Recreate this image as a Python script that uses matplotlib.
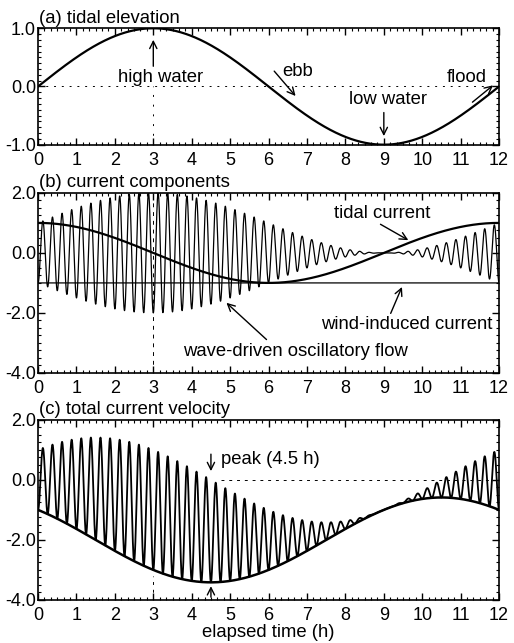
import numpy as np
import matplotlib
matplotlib.use("Agg")
import matplotlib.pyplot as plt
import matplotlib.ticker as mtick

plt.rcParams['font.family'] = ['Liberation Sans', 'DejaVu Sans']
plt.rcParams['font.size'] = 13.3
plt.rcParams['axes.unicode_minus'] = False

# values
hour_ticks = list(range(0, 13))
tide_amp = 1.0          # peak tidal elevation / tidal current
tide_period = 12.0      # h
wind_current = -1.0     # steady wind-induced current
wave_period = 0.25      # h, about 4 oscillations per hour
wave_base_amp = 1.0     # wave amplitude at mean water level
peak_time = 4.5         # h, peak of total current

elev_ticks = [-1.0, 0.0, 1.0]
vel_ticks = [-4.0, -2.0, 0.0, 2.0]

# tidal model curves (sampled densely so the wave flow resolves)
t = np.linspace(0, 12, 8001)
phase = 2 * np.pi * t / tide_period
elevation = tide_amp * np.sin(phase)
tidal_current = tide_amp * np.cos(phase)
wind = np.full_like(t, wind_current)
wave_amp = wave_base_amp + elevation
wave = -wave_amp * np.cos(2 * np.pi * t / wave_period)
total = tidal_current + wind + wave
total_low = tidal_current + wind - wave_amp


def style_axis(ax, ylim, yticks, yminor):
    ax.set_xlim(0, 12)
    ax.set_ylim(*ylim)
    ax.set_xticks(hour_ticks)
    ax.xaxis.set_minor_locator(mtick.MultipleLocator(1 / 6))
    ax.set_yticks(yticks)
    ax.yaxis.set_minor_locator(mtick.MultipleLocator(yminor))
    ax.yaxis.set_major_formatter(mtick.StrMethodFormatter('{x:.1f}'))
    ax.tick_params(which='both', direction='in', top=True, right=True,
                   labelsize=13)
    ax.tick_params(axis='y', pad=1.5)
    ax.tick_params(axis='x', pad=5)
    ax.tick_params(which='major', length=5, width=1)
    ax.tick_params(which='minor', length=2.5, width=0.8)
    for sp in ax.spines.values():
        sp.set_linewidth(1.2)


fig = plt.figure(figsize=(5.14, 6.43), dpi=100)
ax1 = fig.add_axes([0.074, 0.775, 0.897, 0.181])
ax2 = fig.add_axes([0.074, 0.420, 0.897, 0.280])
ax3 = fig.add_axes([0.074, 0.067, 0.897, 0.280])

arrow = dict(arrowstyle='->', color='black', lw=1.0, mutation_scale=13)

# (a) tidal elevation
ax1.plot([0, 12], [0, 0], color='black', lw=0.7, ls=(0, (2, 6)))
ax1.plot([3, 3], [-1, 0], color='black', lw=0.7, ls=(0, (2, 8)))
ax1.plot(t, elevation, color='black', lw=1.6)
style_axis(ax1, (-1, 1), elev_ticks, 0.1)
ax1.text(0.03, 1.03, '(a) tidal elevation', ha='left', va='bottom')
ax1.annotate('', xy=(3, 0.85), xytext=(3, 0.3), arrowprops=arrow)
ax1.text(3.18, 0.15, 'high water', ha='center', va='center')
ax1.annotate('', xy=(6.75, -0.2), xytext=(6.1, 0.3), arrowprops=arrow)
ax1.text(6.75, 0.25, 'ebb', ha='center', va='center')
ax1.annotate('', xy=(11.9, 0.05), xytext=(11.25, -0.3), arrowprops=arrow)
ax1.text(11.15, 0.15, 'flood', ha='center', va='center')
ax1.annotate('', xy=(9, -0.9), xytext=(9, -0.4), arrowprops=arrow)
ax1.text(9.1, -0.22, 'low water', ha='center', va='center')

# (b) current components
ax2.plot([3, 3], [-4, 2], color='black', lw=0.7, ls=(0, (4, 5)))
ax2.plot(t, wave, color='black', lw=0.9)
ax2.plot(t, wind, color='black', lw=0.9)
ax2.plot(t, tidal_current, color='black', lw=1.6)
style_axis(ax2, (-4, 2), vel_ticks, 0.25)
ax2.text(0.03, 2.05, '(b) current components', ha='left', va='bottom')
ax2.annotate('', xy=(9.7, 0.38), xytext=(8.85, 1.0), arrowprops=arrow)
ax2.text(8.95, 1.3, 'tidal current', ha='center', va='center')
ax2.annotate('', xy=(9.5, -1.05), xytext=(9.15, -2.1), arrowprops=arrow)
ax2.text(9.6, -2.38, 'wind-induced current', ha='center', va='center')
ax2.annotate('', xy=(4.85, -1.6), xytext=(6.0, -2.95), arrowprops=arrow)
ax2.text(6.7, -3.27, 'wave-driven oscillatory flow', ha='center', va='center')

# (c) total current velocity
ax3.plot([4.75, 12], [0, 0], color='black', lw=0.7, ls=(0, (3, 5)))
ax3.plot([3, 3], [-4, -3.2], color='black', lw=0.7, ls=(0, (3, 5)))
ax3.plot(t, total, color='black', lw=1.3)
ax3.plot(t, total_low, color='black', lw=1.8)
style_axis(ax3, (-4, 2), vel_ticks, 0.25)
ax3.text(0.03, 2.05, '(c) total current velocity', ha='left', va='bottom')
ax3.annotate('', xy=(peak_time, 0.2), xytext=(peak_time, 0.95), arrowprops=arrow)
ax3.annotate('', xy=(peak_time, -3.45), xytext=(peak_time, -4.0), arrowprops=arrow)
ax3.text(4.75, 0.68, 'peak (4.5 h)', ha='left', va='center')
ax3.set_xlabel('elapsed time (h)', labelpad=0)

fig.savefig('out.png', dpi=100)
